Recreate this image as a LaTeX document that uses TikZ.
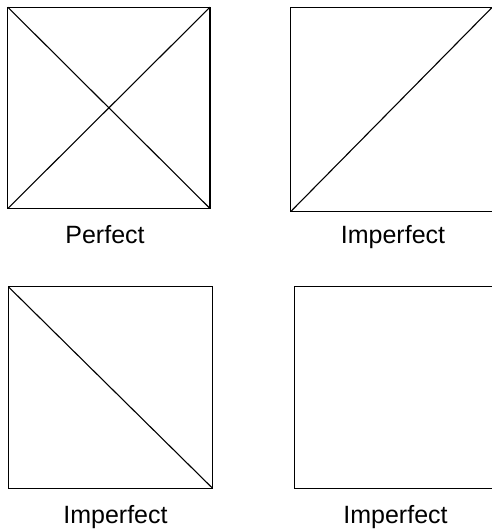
\documentclass[tikz,border=0pt]{standalone}
\usepackage{fontspec}
\setmainfont{Liberation Sans}
\begin{document}
\begin{tikzpicture}[x=1pt,y=1pt,
  sq/.style={line width=1.2pt, line join=miter},
  diag/.style={line width=1.1pt},
  lbl/.style={anchor=base, inner sep=0pt, font=\fontsize{25}{29}\selectfont}]
\useasboundingbox (0,0) rectangle (492,531);
% top-left square (perfect)
\coordinate (a1) at (7.8,322.5);
\coordinate (a2) at (210,322.5);
\coordinate (a3) at (210,523.8);
\coordinate (a4) at (7.8,523.8);
\draw[sq] (a1) -- (a2) -- (a3) -- (a4) -- cycle;
\draw[diag] (a1) -- (a3);
\draw[diag] (a2) -- (a4);
% top-right square
\coordinate (b1) at (290.8,319.5);
\coordinate (b2) at (494,319.5);
\coordinate (b3) at (492,523.5);
\coordinate (b3x) at (494,523.5);
\coordinate (b4) at (290.8,523.5);
\draw[sq] (b2) -- (b1) -- (b4) -- (b3x);
\draw[diag] (b1) -- (b3);
% bottom-left square
\coordinate (c1) at (8.3,42.8);
\coordinate (c2) at (212.5,42.8);
\coordinate (c3) at (212.5,244.3);
\coordinate (c4) at (8.3,244.3);
\draw[sq] (c1) -- (c2) -- (c3) -- (c4) -- cycle;
\draw[diag] (c4) -- (c2);
% bottom-right square
\coordinate (d1) at (294.6,42.8);
\coordinate (d2) at (494,42.8);
\coordinate (d3) at (494,244.3);
\coordinate (d4) at (294.6,244.3);
\draw[sq] (d2) -- (d1) -- (d4) -- (d3);
% labels
\node[lbl] (l1) at (105,287.5) {Perfect};
\node[lbl] (l2) at (393,287.5) {Imperfect};
\node[lbl] (l3) at (115.5,8) {Imperfect};
\node[lbl] (l4) at (395.5,8) {Imperfect};
\end{tikzpicture}
\end{document}
